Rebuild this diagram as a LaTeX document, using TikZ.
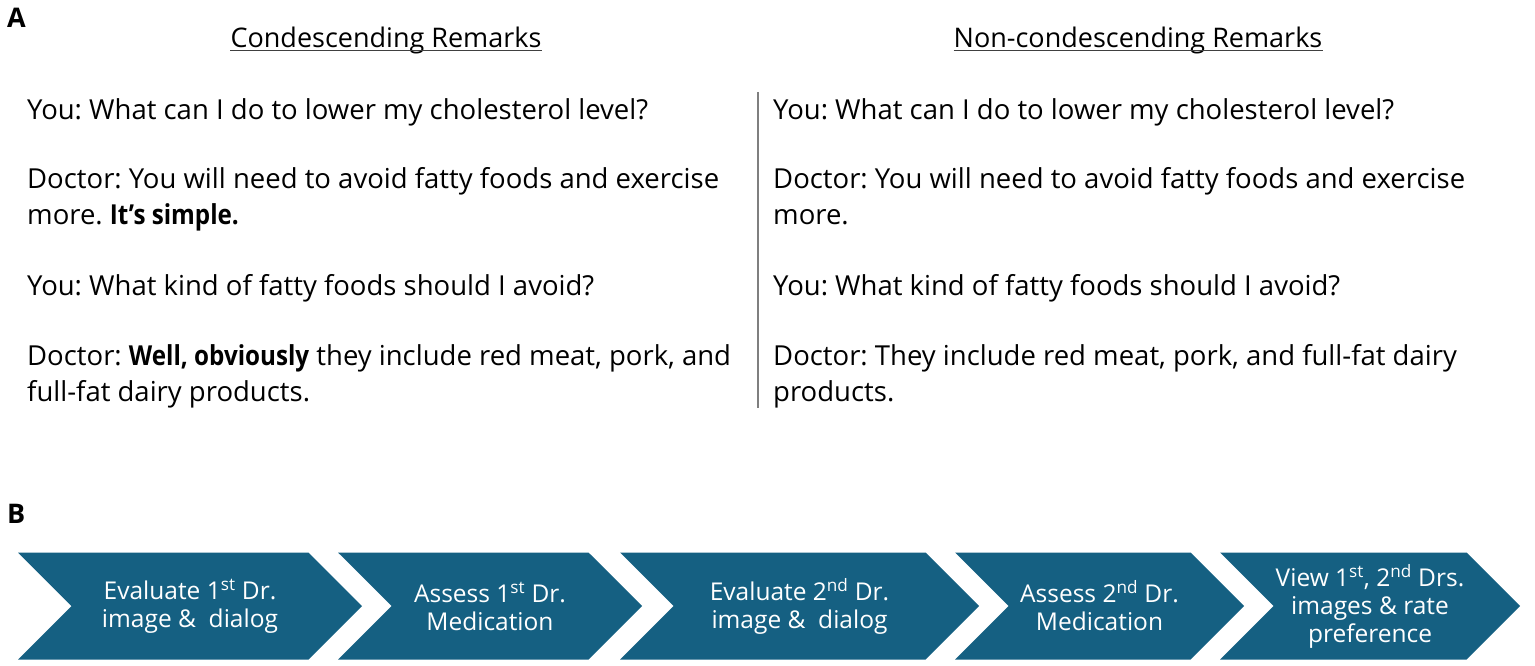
\documentclass[tikz,border=0pt]{standalone}
\usepackage{fontspec}
\setmainfont{Open Sans}
\usetikzlibrary{positioning,shapes.symbols}

\definecolor{chevblue}{HTML}{156082}
\definecolor{rulegray}{HTML}{7F7F7F}
\frenchspacing
\newcommand{\remarkbf}[1]{{\bfseries\addfontfeature{FakeStretch=0.88}#1}}

\begin{document}
\begin{tikzpicture}[
  x=1pt, y=-1pt,
  turn/.style={anchor=base west, align=left, inner sep=0pt, font=\fontsize{27.5}{36}\selectfont},
  hdr/.style={anchor=base, inner sep=0pt, font=\fontsize{27}{30}\selectfont},
  panel/.style={anchor=base west, inner sep=0pt, font=\fontsize{27}{30}\selectfont\bfseries},
  chev/.style={shape=signal, signal from=west, signal to=east, signal pointer angle=90,
    fill=chevblue, text=white, align=center, minimum height=107pt, inner sep=0pt,
    font=\fontsize{24.5}{28}\selectfont}
]
\useasboundingbox (0,0) rectangle (1535,666);

% Panel A: headers
\node[panel] (PA) at (7,28) {A};
\node[hdr] (HDR_L) at (386,48) {Condescending Remarks};
\node[hdr] (HDR_R) at (1138,48) {Non-condescending Remarks};
\draw[line width=1.3pt, black!75] ([yshift=-2.5pt]HDR_L.base west) -- ([yshift=-2.5pt]HDR_L.base east);
\draw[line width=1.3pt, black!75] ([yshift=-2.5pt]HDR_R.base west) -- ([yshift=-2.5pt]HDR_R.base east);

% Left column: condescending (base = last line)
\node[turn] (L1) at (27,120) {You: What can I do to lower my cholesterol level?};
\node[turn] (L2) at (27,225) {Doctor: You will need to avoid fatty foods and exercise\\more. \remarkbf{It’s simple.}};
\node[turn] (L3) at (27,295) {You: What kind of fatty foods should I avoid?};
\node[turn] (L4) at (27,401) {Doctor: \remarkbf{Well, obviously} they include red meat, pork, and\\full-fat dairy products.};

% Divider
\coordinate (DIV_TOP) at (758,92);
\coordinate (DIV_BOT) at (758,408);
\draw[line width=1.5pt, rulegray] (DIV_TOP) -- (DIV_BOT);

% Right column: non-condescending
\node[turn] (R1) at (773,120) {You: What can I do to lower my cholesterol level?};
\node[turn] (R2) at (773,225) {Doctor: You will need to avoid fatty foods and exercise\\more.};
\node[turn] (R3) at (773,295) {You: What kind of fatty foods should I avoid?};
\node[turn] (R4) at (773,401) {Doctor: They include red meat, pork, and full-fat dairy\\products.};

% Panel B: study flow
\node[panel] (PB) at (7,523) {B};
\node[chev, minimum width=344pt] (EVAL1) at (190,606) {Evaluate 1\textsuperscript{st} Dr.\\image \&\ \ dialog};
\node[chev, minimum width=304pt] (MED1) at (490,606) {Assess 1\textsuperscript{st} Dr.\\Medication};
\node[chev, minimum width=359pt] (EVAL2) at (799.5,606) {Evaluate 2\textsuperscript{nd} Dr.\\image \&\ \ dialog};
\node[chev, minimum width=289pt] (MED2) at (1099.5,606) {Assess 2\textsuperscript{nd} Dr.\\Medication};
\node[chev, minimum width=300pt] (RATE) at (1370,606) {View 1\textsuperscript{st}, 2\textsuperscript{nd} Drs.\\images \& rate\\preference};

\end{tikzpicture}
\end{document}
